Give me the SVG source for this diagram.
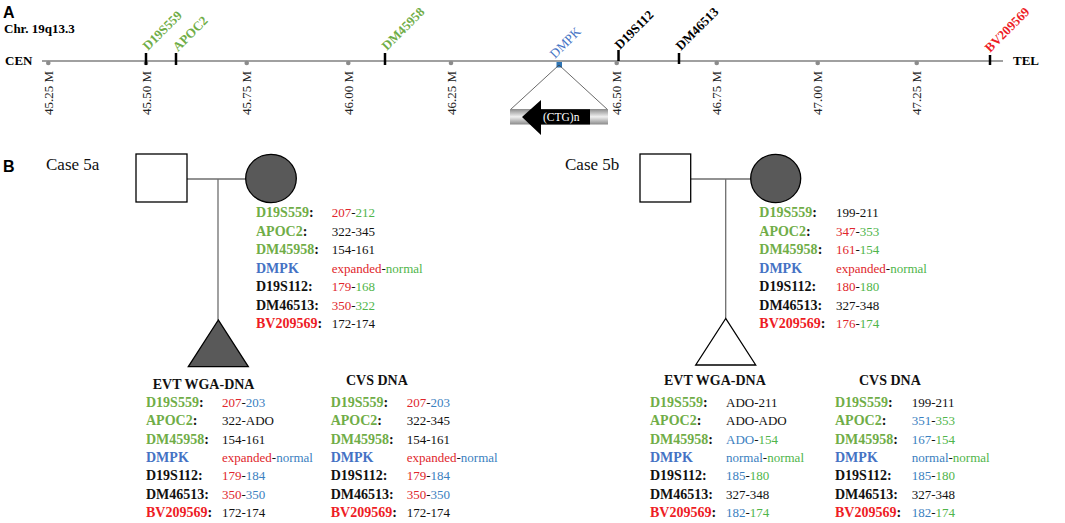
<svg xmlns="http://www.w3.org/2000/svg" width="1065" height="523" viewBox="0 0 1065 523">
<style>
.pl{font:bold 16px "Liberation Sans",Arial,sans-serif;fill:#000}
.ser{font-family:"Liberation Serif","Times New Roman",serif}
.hd{font:bold 13px "Liberation Serif","Times New Roman",serif;fill:#000}
.tk{font:13px "Liberation Serif","Times New Roman",serif;fill:#222}
.mk{font:bold 13px "Liberation Serif","Times New Roman",serif}
.case{font:17px "Liberation Serif","Times New Roman",serif;fill:#111}
.lab{font:bold 14px "Liberation Serif","Times New Roman",serif;fill:#111}
.val{font:13px "Liberation Serif","Times New Roman",serif;fill:#111}
.th{font:bold 14px "Liberation Serif","Times New Roman",serif;fill:#111}
.g{fill:#70ad47}.gv{fill:#4fb54a}.r{fill:#e0262c}.rl{fill:#ee1c25}.b{fill:#4472c4}.bv{fill:#3a80c0}
.tick{stroke:#000;stroke-width:2.5}
.dot{fill:#8c8c8c}
.conn{stroke:#6e6e6e;stroke-width:1.3;fill:none}
.node{stroke:#000;stroke-width:1.3}
</style>
<defs>
<linearGradient id="bar" x1="0" y1="0" x2="0" y2="1">
<stop offset="0" stop-color="#8a8a8a"/>
<stop offset="0.5" stop-color="#f0f0f0"/>
<stop offset="1" stop-color="#8a8a8a"/>
</linearGradient>
</defs>

<!-- Panel A -->
<text class="pl" x="3" y="17.5">A</text>
<text class="hd" x="4" y="32.5">Chr. 19q13.3</text>
<text class="hd" x="5" y="65">CEN</text>
<text class="hd" x="1013" y="65">TEL</text>
<g id="chromosome">
<line x1="42" y1="61" x2="1003" y2="61" stroke="#808080" stroke-width="1.4"/>
<circle class="dot" cx="48.3" cy="63" r="2.3"/>
<circle class="dot" cx="146" cy="63" r="2.3"/>
<circle class="dot" cx="246.7" cy="63" r="2.3"/>
<circle class="dot" cx="348.3" cy="63" r="2.3"/>
<circle class="dot" cx="451" cy="63" r="2.3"/>
<circle class="dot" cx="616.7" cy="63" r="2.3"/>
<circle class="dot" cx="716.7" cy="63" r="2.3"/>
<circle class="dot" cx="817.7" cy="63" r="2.3"/>
<circle class="dot" cx="916.7" cy="63" r="2.3"/>
<text class="tk" transform="translate(52.8,115) rotate(-90)">45.25 M</text>
<text class="tk" transform="translate(150.5,115) rotate(-90)">45.50 M</text>
<text class="tk" transform="translate(251.2,115) rotate(-90)">45.75 M</text>
<text class="tk" transform="translate(352.8,115) rotate(-90)">46.00 M</text>
<text class="tk" transform="translate(455.5,115) rotate(-90)">46.25 M</text>
<text class="tk" transform="translate(621.2,115) rotate(-90)">46.50 M</text>
<text class="tk" transform="translate(721.2,115) rotate(-90)">46.75 M</text>
<text class="tk" transform="translate(822.2,115) rotate(-90)">47.00 M</text>
<text class="tk" transform="translate(921.2,115) rotate(-90)">47.25 M</text>
</g>
<g id="markers">
<line class="tick" x1="146" y1="53" x2="146" y2="65"/>
<line class="tick" x1="176" y1="53" x2="176" y2="65"/>
<line class="tick" x1="385" y1="53" x2="385" y2="65"/>
<line class="tick" x1="618.5" y1="50" x2="618.5" y2="61"/>
<line class="tick" x1="679" y1="53" x2="679" y2="64"/>
<line class="tick" x1="990" y1="55" x2="990" y2="65"/>
<rect x="556.5" y="62" width="5.5" height="5.5" fill="#2e75b6"/>
<text class="mk g" transform="translate(148,51) rotate(-45)">D19S559</text>
<text class="mk g" transform="translate(178,52) rotate(-45)">APOC2</text>
<text class="mk g" transform="translate(387,51) rotate(-45)">DM45958</text>
<text class="ser" font-size="13" fill="#4472c4" transform="translate(555,59) rotate(-45)">DMPK</text>
<text class="mk" fill="#000" transform="translate(620,50) rotate(-45)">D19S112</text>
<text class="mk" fill="#000" transform="translate(681,51) rotate(-45)">DM46513</text>
<text class="mk rl" transform="translate(990,53) rotate(-45)">BV209569</text>
</g>
<g id="dmpk-gene">
<line x1="559" y1="65" x2="510" y2="110" stroke="#444" stroke-width="0.8"/>
<line x1="559" y1="65" x2="608" y2="110" stroke="#444" stroke-width="0.8"/>
<rect x="510" y="109" width="98" height="15.5" fill="url(#bar)"/>
<polygon points="522,117 541,100 541,109.3 590,109.3 590,124.5 541,124.5 541,135" fill="#000"/>
<text class="ser" font-size="11.5" fill="#fff" x="543" y="121">(CTG)n</text>
</g>

<!-- Panel B -->
<text class="pl" x="3" y="171.7" font-size="19">B</text>
<text class="case" x="46" y="170">Case 5a</text>
<text class="case" x="565" y="170">Case 5b</text>

<g id="connectors">
<line class="conn" x1="187" y1="179" x2="246" y2="179"/>
<line class="conn" x1="218" y1="179" x2="218" y2="320"/>
<line class="conn" x1="691" y1="179" x2="750.5" y2="179"/>
<line class="conn" x1="725.7" y1="179" x2="725.7" y2="318.5"/>
</g>

<g id="father-5a"><rect class="node" x="136" y="154" width="51" height="48" fill="#fff"/></g>
<g id="mother-5a"><ellipse class="node" cx="271" cy="178.5" rx="25.3" ry="24.2" fill="#595959"/></g>
<g id="fetus-5a"><polygon class="node" points="218.3,320 188.3,366.7 248.3,366.7" fill="#595959"/></g>
<g id="father-5b"><rect class="node" x="640" y="154" width="50.7" height="48" fill="#fff"/></g>
<g id="mother-5b"><ellipse class="node" cx="775.7" cy="178.5" rx="25" ry="24.2" fill="#595959"/></g>
<g id="fetus-5b"><polygon class="node" points="725.7,318.5 695.7,365 755.7,365" fill="#fff"/></g>

<!-- Mother 5a table -->
<g id="table-mother-5a">
<text class="lab" x="256" y="217"><tspan class="g">D19S559</tspan>:</text>
<text class="lab" x="256" y="235.5"><tspan class="g">APOC2</tspan>:</text>
<text class="lab" x="256" y="254"><tspan class="g">DM45958</tspan>:</text>
<text class="lab b" x="256" y="272.5">DMPK</text>
<text class="lab" x="256" y="291">D19S112:</text>
<text class="lab" x="256" y="309.5">DM46513:</text>
<text class="lab" x="256" y="328"><tspan class="rl">BV209569</tspan>:</text>
<text class="val" x="331.7" y="217"><tspan class="r">207</tspan>-<tspan class="gv">212</tspan></text>
<text class="val" x="331.7" y="235.5">322-345</text>
<text class="val" x="331.7" y="254">154-161</text>
<text class="val" x="331.7" y="272.5"><tspan class="r">expanded</tspan>-<tspan class="gv">normal</tspan></text>
<text class="val" x="331.7" y="291"><tspan class="r">179</tspan>-<tspan class="gv">168</tspan></text>
<text class="val" x="331.7" y="309.5"><tspan class="r">350</tspan>-<tspan class="gv">322</tspan></text>
<text class="val" x="331.7" y="328">172-174</text>
</g>

<!-- EVT 5a -->
<g id="table-evt-5a">
<text class="th" x="152.7" y="389">EVT WGA-DNA</text>
<text class="lab" x="146" y="406.8"><tspan class="g">D19S559</tspan>:</text>
<text class="lab" x="146" y="425.2"><tspan class="g">APOC2</tspan>:</text>
<text class="lab" x="146" y="443.5"><tspan class="g">DM45958</tspan>:</text>
<text class="lab b" x="146" y="461.9">DMPK</text>
<text class="lab" x="146" y="480.2">D19S112:</text>
<text class="lab" x="146" y="498.6">DM46513:</text>
<text class="lab" x="146" y="516.9"><tspan class="rl">BV209569</tspan>:</text>
<text class="val" x="222" y="406.8"><tspan class="r">207</tspan>-<tspan class="bv">203</tspan></text>
<text class="val" x="222" y="425.2">322-ADO</text>
<text class="val" x="222" y="443.5">154-161</text>
<text class="val" x="222" y="461.9"><tspan class="r">expanded</tspan>-<tspan class="bv">normal</tspan></text>
<text class="val" x="222" y="480.2"><tspan class="r">179</tspan>-<tspan class="bv">184</tspan></text>
<text class="val" x="222" y="498.6"><tspan class="r">350</tspan>-<tspan class="bv">350</tspan></text>
<text class="val" x="222" y="516.9">172-174</text>
</g>

<!-- CVS 5a -->
<g id="table-cvs-5a">
<text class="th" x="346" y="385">CVS DNA</text>
<text class="lab" x="330.7" y="406.8"><tspan class="g">D19S559</tspan>:</text>
<text class="lab" x="330.7" y="425.2"><tspan class="g">APOC2</tspan>:</text>
<text class="lab" x="330.7" y="443.5"><tspan class="g">DM45958</tspan>:</text>
<text class="lab b" x="330.7" y="461.9">DMPK</text>
<text class="lab" x="330.7" y="480.2">D19S112:</text>
<text class="lab" x="330.7" y="498.6">DM46513:</text>
<text class="lab" x="330.7" y="516.9"><tspan class="rl">BV209569</tspan>:</text>
<text class="val" x="406.7" y="406.8"><tspan class="r">207</tspan>-<tspan class="bv">203</tspan></text>
<text class="val" x="406.7" y="425.2">322-345</text>
<text class="val" x="406.7" y="443.5">154-161</text>
<text class="val" x="406.7" y="461.9"><tspan class="r">expanded</tspan>-<tspan class="bv">normal</tspan></text>
<text class="val" x="406.7" y="480.2"><tspan class="r">179</tspan>-<tspan class="bv">184</tspan></text>
<text class="val" x="406.7" y="498.6"><tspan class="r">350</tspan>-<tspan class="bv">350</tspan></text>
<text class="val" x="406.7" y="516.9">172-174</text>
</g>

<!-- Mother 5b table -->
<g id="table-mother-5b">
<text class="lab" x="759.3" y="217"><tspan class="g">D19S559</tspan>:</text>
<text class="lab" x="759.3" y="235.5"><tspan class="g">APOC2</tspan>:</text>
<text class="lab" x="759.3" y="254"><tspan class="g">DM45958</tspan>:</text>
<text class="lab b" x="759.3" y="272.5">DMPK</text>
<text class="lab" x="759.3" y="291">D19S112:</text>
<text class="lab" x="759.3" y="309.5">DM46513:</text>
<text class="lab" x="759.3" y="328"><tspan class="rl">BV209569</tspan>:</text>
<text class="val" x="836" y="217">199-211</text>
<text class="val" x="836" y="235.5"><tspan class="r">347</tspan>-<tspan class="gv">353</tspan></text>
<text class="val" x="836" y="254"><tspan class="r">161</tspan>-<tspan class="gv">154</tspan></text>
<text class="val" x="836" y="272.5"><tspan class="r">expanded</tspan>-<tspan class="gv">normal</tspan></text>
<text class="val" x="836" y="291"><tspan class="r">180</tspan>-<tspan class="gv">180</tspan></text>
<text class="val" x="836" y="309.5">327-348</text>
<text class="val" x="836" y="328"><tspan class="r">176</tspan>-<tspan class="gv">174</tspan></text>
</g>

<!-- EVT 5b -->
<g id="table-evt-5b">
<text class="th" x="664" y="385">EVT WGA-DNA</text>
<text class="lab" x="650" y="406.8"><tspan class="g">D19S559</tspan>:</text>
<text class="lab" x="650" y="425.2"><tspan class="g">APOC2</tspan>:</text>
<text class="lab" x="650" y="443.5"><tspan class="g">DM45958</tspan>:</text>
<text class="lab b" x="650" y="461.9">DMPK</text>
<text class="lab" x="650" y="480.2">D19S112:</text>
<text class="lab" x="650" y="498.6">DM46513:</text>
<text class="lab" x="650" y="516.9"><tspan class="rl">BV209569</tspan>:</text>
<text class="val" x="726" y="406.8">ADO-211</text>
<text class="val" x="726" y="425.2">ADO-ADO</text>
<text class="val" x="726" y="443.5"><tspan class="bv">ADO</tspan>-<tspan class="gv">154</tspan></text>
<text class="val" x="726" y="461.9"><tspan class="bv">normal</tspan>-<tspan class="gv">normal</tspan></text>
<text class="val" x="726" y="480.2"><tspan class="bv">185</tspan>-<tspan class="gv">180</tspan></text>
<text class="val" x="726" y="498.6">327-348</text>
<text class="val" x="726" y="516.9"><tspan class="bv">182</tspan>-<tspan class="gv">174</tspan></text>
</g>

<!-- CVS 5b -->
<g id="table-cvs-5b">
<text class="th" x="859" y="385">CVS DNA</text>
<text class="lab" x="835" y="406.8"><tspan class="g">D19S559</tspan>:</text>
<text class="lab" x="835" y="425.2"><tspan class="g">APOC2</tspan>:</text>
<text class="lab" x="835" y="443.5"><tspan class="g">DM45958</tspan>:</text>
<text class="lab b" x="835" y="461.9">DMPK</text>
<text class="lab" x="835" y="480.2">D19S112:</text>
<text class="lab" x="835" y="498.6">DM46513:</text>
<text class="lab" x="835" y="516.9"><tspan class="rl">BV209569</tspan>:</text>
<text class="val" x="911.7" y="406.8">199-211</text>
<text class="val" x="911.7" y="425.2"><tspan class="bv">351</tspan>-<tspan class="gv">353</tspan></text>
<text class="val" x="911.7" y="443.5"><tspan class="bv">167</tspan>-<tspan class="gv">154</tspan></text>
<text class="val" x="911.7" y="461.9"><tspan class="bv">normal</tspan>-<tspan class="gv">normal</tspan></text>
<text class="val" x="911.7" y="480.2"><tspan class="bv">185</tspan>-<tspan class="gv">180</tspan></text>
<text class="val" x="911.7" y="498.6">327-348</text>
<text class="val" x="911.7" y="516.9"><tspan class="bv">182</tspan>-<tspan class="gv">174</tspan></text>
</g>
</svg>
